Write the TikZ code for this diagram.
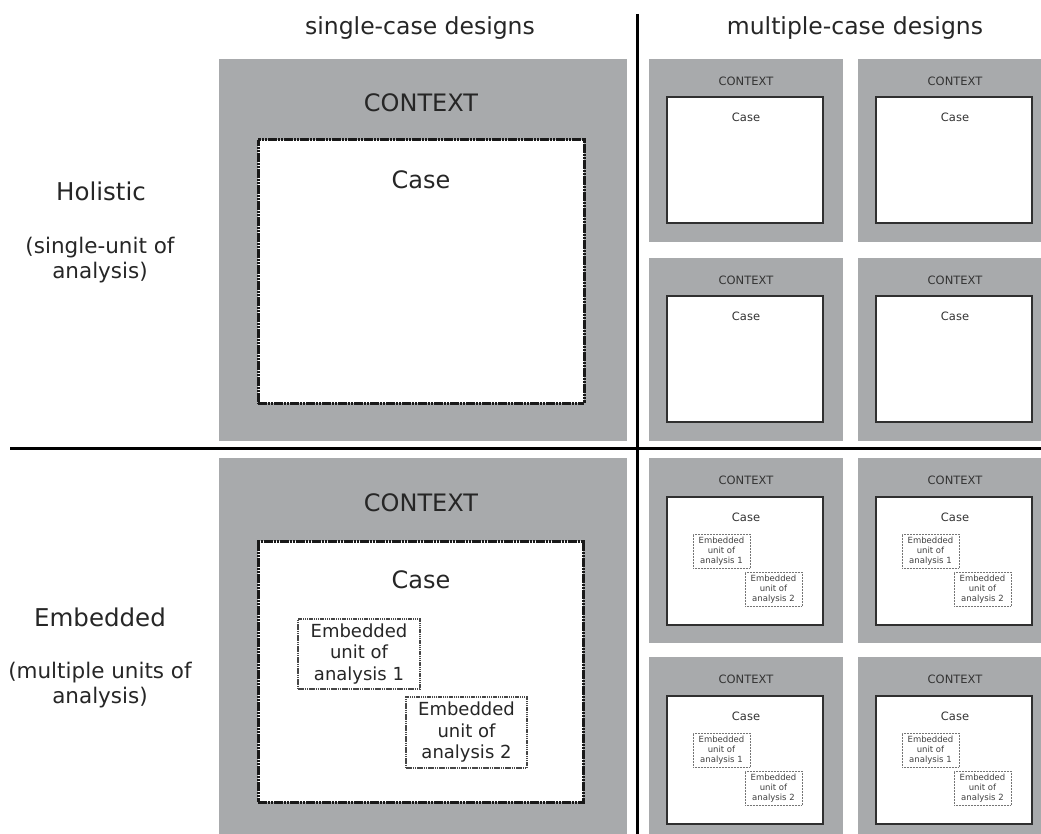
\documentclass[tikz,border=0pt]{standalone}
\usepackage{fontspec}
\setmainfont{DejaVu Sans}
\definecolor{ctxgrey}{RGB}{168,170,172}
\definecolor{inkline}{RGB}{25,25,25}
% rectangle node from its top-left and bottom-right corners (pixel-like units)
\newcommand\rectnode[6]{\node[#1,anchor=north west,inner sep=0pt,outer sep=0pt,
  minimum width={(#5-#3)*1pt},minimum height={(#6-#4)*1pt}] (#2) at (#3,#4) {};}
\tikzset{
  ctx/.style={fill=ctxgrey,draw=none},
  bigcase/.style={fill=white,draw=inkline,line width=3pt,dash pattern=on 2.6pt off 0.6pt},
  bigunit/.style={fill=white,draw=inkline!80,line width=1.3pt,dash pattern=on 1.5pt off 0.7pt},
  smallcase/.style={fill=white,draw=inkline!90,line width=1.4pt},
  smallunit/.style={fill=white,draw=inkline!60,line width=0.8pt,dash pattern=on 1pt off 0.5pt},
  divider/.style={line width=3pt,draw=black},
  headtxt/.style={font=\fontsize{23.5}{28}\selectfont,text=black!85},
  sidetitle/.style={font=\fontsize{24.5}{28}\selectfont,text=black!85},
  sidetxt/.style={font=\fontsize{21.5}{25}\selectfont,text=black!85,align=center},
  bigctx/.style={font=\fontsize{24}{28}\selectfont,text=black!85},
  bigcasetxt/.style={font=\fontsize{24}{28}\selectfont,text=black!85},
  bigunittxt/.style={font=\fontsize{18}{21.5}\selectfont,text=black!85,align=center,inner sep=0pt},
  tinyctx/.style={font=\fontsize{11.5}{13}\selectfont,text=black!80},
  tinycase/.style={font=\fontsize{11.5}{13}\selectfont,text=black!80},
  tinyunit/.style={font=\fontsize{8.5}{10.2}\selectfont,text=black!75,align=center,inner sep=0pt},
}
% holistic cell of the multiple-case grid
\newcommand\holicell[3]{%
  \begin{scope}[shift={(#2,#3)}]
    \rectnode{ctx}{#1g}{0}{0}{194}{183}
    \rectnode{smallcase}{#1c}{18}{38}{174}{164}
    \node[tinyctx] (#1t) at (97,22) {CONTEXT};
    \node[tinycase] (#1k) at (97,58) {Case};
  \end{scope}}
% embedded cell of the multiple-case grid
\newcommand\embcell[3]{%
  \begin{scope}[shift={(#2,#3)}]
    \rectnode{ctx}{#1g}{0}{0}{194}{185}
    \rectnode{smallcase}{#1c}{18}{39}{174}{167}
    \node[tinyctx] (#1t) at (97,22) {CONTEXT};
    \node[tinycase] (#1k) at (97,59) {Case};
    \rectnode{smallunit}{#1u}{44}{76}{101}{110}
    \node[tinyunit] (#1ut) at (#1u.center) {Embedded\\unit of\\analysis 1};
    \rectnode{smallunit}{#1v}{96}{114}{153}{148}
    \node[tinyunit] (#1vt) at (#1v.center) {Embedded\\unit of\\analysis 2};
  \end{scope}}
\begin{document}
\begin{tikzpicture}[x=1pt,y=-1pt]
  \useasboundingbox[fill=white] (0,0) rectangle (1041,834);
  \begin{scope}
    \clip (0,0) rectangle (1041,834);
    % column headings
    \node[headtxt] (hsingle) at (420,28) {single-case designs};
    \node[headtxt] (hmulti) at (855,28) {multiple-case designs};
    % row headings
    \node[sidetitle] (hholi) at (101,191) {Holistic};
    \node[sidetxt] (hholisub) at (100,260) {(single-unit of\\analysis)};
    \node[sidetitle] (hemb) at (100,617) {Embedded};
    \node[sidetxt] (hembsub) at (100,685) {(multiple units of\\analysis)};
    % single-case, holistic
    \rectnode{ctx}{sA}{219}{59}{627}{441}
    \node[bigctx] (sAt) at (421,103) {CONTEXT};
    \rectnode{bigcase}{sAc}{258}{140}{584}{403}
    \node[bigcasetxt] (sAk) at (421,180) {Case};
    % single-case, embedded
    \rectnode{ctx}{sB}{219}{458}{627}{834}
    \node[bigctx] (sBt) at (421,503) {CONTEXT};
    \rectnode{bigcase}{sBc}{258}{541}{583}{802}
    \node[bigcasetxt] (sBk) at (421,580) {Case};
    \rectnode{bigunit}{sBu}{298}{619}{420}{689}
    \node[bigunittxt] (sBut) at (sBu.center) {Embedded\\unit of\\analysis 1};
    \rectnode{bigunit}{sBv}{406}{697}{527}{768}
    \node[bigunittxt] (sBvt) at (sBv.center) {Embedded\\unit of\\analysis 2};
    % multiple-case, holistic
    \holicell{mA}{649}{59}
    \holicell{mB}{858}{59}
    \holicell{mC}{649}{258}
    \holicell{mD}{858}{258}
    % multiple-case, embedded
    \embcell{mE}{649}{458}
    \embcell{mF}{858}{458}
    \embcell{mG}{649}{657}
    \embcell{mH}{858}{657}
    % dividers
    \coordinate (vtop) at (637,14);
    \coordinate (vbot) at (637,834);
    \coordinate (hleft) at (10,448);
    \coordinate (hright) at (1041,448);
    \draw[divider] (vtop) -- (vbot);
    \draw[divider] (hleft) -- (hright);
  \end{scope}
\end{tikzpicture}
\end{document}
